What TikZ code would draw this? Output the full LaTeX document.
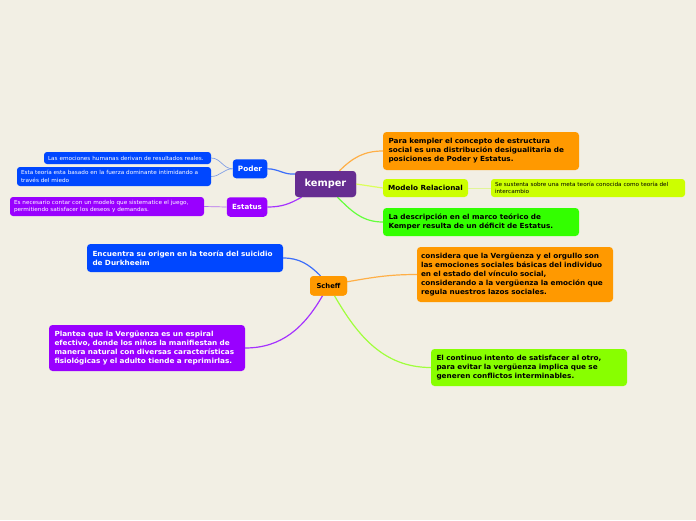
\documentclass[tikz,border=0pt]{standalone}
\usepackage{fontspec}
\setmainfont{DejaVu Sans}
\newfontfamily\wf[FakeStretch=1.04]{DejaVu Sans}
\definecolor{bgc}{RGB}{242,239,228}
\definecolor{cpurpled}{RGB}{102,45,145}
\definecolor{corange}{RGB}{255,153,0}
\definecolor{cyg}{RGB}{204,255,0}
\definecolor{cgreen}{RGB}{51,255,0}
\definecolor{cchart}{RGB}{136,255,0}
\definecolor{cblue}{RGB}{0,71,255}
\definecolor{cpurple}{RGB}{153,0,255}
\definecolor{lorange}{RGB}{255,175,70}
\definecolor{lyg}{RGB}{220,255,90}
\definecolor{lgreen}{RGB}{100,255,60}
\definecolor{lchart}{RGB}{160,255,60}
\definecolor{lblue}{RGB}{60,110,250}
\definecolor{lpurple}{RGB}{165,50,255}
\definecolor{sblue}{RGB}{130,160,230}
\definecolor{spurple}{RGB}{180,110,240}
\definecolor{syg}{RGB}{225,245,150}
\hyphenpenalty=10000
\exhyphenpenalty=10000
\begin{document}
\begin{tikzpicture}[x=1pt,y=-1pt,
  box/.style={rounded corners=3.5pt, inner xsep=5.5pt, inner ysep=0pt, align=left,
    font=\wf\bfseries\fontsize{7.0}{9}\selectfont},
  sbox/.style={rounded corners=3pt, inner xsep=4pt, inner ysep=0pt, align=left,
    font=\wf\fontsize{5.5}{7.6}\selectfont},
  cbox/.style={rounded corners=3.5pt, inner sep=0pt, align=center,
    font=\bfseries\fontsize{6.8}{9}\selectfont},
  mainline/.style={line width=1.2pt},
  subline/.style={line width=0.7pt}]
\fill[bgc] (0,0) rectangle (696,520);
\useasboundingbox (0,0) rectangle (696,520);

% central nodes
\node[cbox, fill=cpurpled, text=white, minimum width=61pt, minimum height=26pt,
  font=\bfseries\fontsize{9.8}{12}\selectfont] (kemper) at (325.5,184) {kemper};
\node[cbox, fill=corange, minimum width=37pt, minimum height=19.5pt] (scheff) at (328.5,285.8) {Scheff};

% right of kemper
\node[box, fill=corange, text width=185pt, minimum height=38pt] (para) at (481,151)
  {Para kempler el concepto de estructura\\social es una distribución desigualitaria de\\posiciones de Poder y Estatus.};
\node[cbox, fill=cyg, minimum width=85pt, minimum height=18pt,
  font=\wf\bfseries\fontsize{7.0}{9}\selectfont] (modelo) at (425.5,188) {Modelo Relacional};
\node[sbox, fill=cyg, text width=186pt, minimum height=18pt] (sust) at (588,188)
  {Se sustenta sobre una meta teoría conocida como teoría del\\intercambio};
\node[box, fill=cgreen, text width=185pt, minimum height=28pt] (desc) at (481,222)
  {La descripción en el marco teórico de\\Kemper resulta de un déficit de Estatus.};

% left of kemper
\node[cbox, fill=cblue, text=white, minimum width=34.5pt, minimum height=19pt,
  font=\bfseries\fontsize{7.3}{9}\selectfont] (poder) at (250,168.8) {Poder};
\node[sbox, fill=cblue, text=white, text width=159pt, minimum height=12pt] (emoc) at (127.5,158)
  {Las emociones humanas derivan de resultados reales.};
\node[sbox, fill=cblue, text=white, text width=186pt, minimum height=19pt] (fuerza) at (114,176.5)
  {Esta teoría esta basado en la fuerza dominante intimidando a\\través del miedo};
\node[cbox, fill=cpurple, text=white, minimum width=40.5pt, minimum height=19.5pt,
  font=\bfseries\fontsize{7.1}{9}\selectfont] (estatus) at (247,207) {Estatus};
\node[sbox, fill=cpurple, text=white, text width=186pt, minimum height=19pt] (neces) at (107,206.5)
  {Es necesario contar con un modelo que sistematice el juego,\\permitiendo satisfacer los deseos y demandas.};

% Scheff children
\node[box, fill=cblue, text=white, text width=185pt, minimum height=28pt] (durk) at (185,258)
  {Encuentra su origen en la teoría del suicidio\\de Durkheeim};
\node[box, fill=corange, text width=188pt, inner xsep=4pt, minimum height=55pt] (consid) at (515,274.5)
  {considera que la Vergüenza y el orgullo son\\las emociones sociales básicas del individuo\\en el estado del vínculo social,\\considerando a la vergüenza la emoción que\\regula nuestros lazos sociales.};
\node[box, fill=cpurple, text=white, text width=185pt, minimum height=46pt] (plant) at (147,348)
  {Plantea que la Vergüenza es un espiral\\efectivo, donde los niños la manifiestan de\\manera natural con diversas características\\fisiológicas y el adulto tiende a reprimirlas.};
\node[box, fill=cchart, text width=185pt, minimum height=37pt] (contin) at (529,367.5)
  {El continuo intento de satisfacer al otro,\\para evitar la vergüenza implica que se\\generen conflictos interminables.};

% connectors from kemper
\draw[mainline, lorange] ([xshift=14pt]kemper.north) to[out=45,in=180] (para.west);
\draw[mainline, lyg] (kemper.east) -- (modelo.west);
\draw[subline, syg] (modelo.east) -- (sust.west);
\draw[mainline, lgreen] ([xshift=12pt]kemper.south) to[out=-45,in=180] (desc.west);
\draw[mainline, lblue] ([yshift=10pt]kemper.west) to[out=185,in=0] (poder.east);
\draw[mainline, lpurple] ([xshift=-24pt]kemper.south) to[out=-150,in=0] (estatus.east);
\draw[subline, sblue] (poder.west) to[out=180,in=0] (emoc.east);
\draw[subline, sblue] (poder.west) to[out=180,in=0] (fuerza.east);
\draw[subline, spurple] (estatus.west) -- (neces.west -| neces.east);

% connectors from Scheff
\draw[mainline, lblue] ([xshift=-8pt]scheff.north) to[out=135,in=0] (durk.east);
\draw[mainline, lorange] ([yshift=4pt]scheff.east) to[out=10,in=180] (consid.west);
\draw[mainline, lpurple] ([xshift=-6pt]scheff.south) to[out=-120,in=0] (plant.east);
\draw[mainline, lchart] ([xshift=6pt]scheff.south) to[out=-60,in=180] (contin.west);

% redraw central nodes on top of connector ends
\node[cbox, fill=cpurpled, text=white, minimum width=61pt, minimum height=26pt,
  font=\bfseries\fontsize{9.8}{12}\selectfont] at (kemper) {kemper};
\node[cbox, fill=corange, minimum width=37pt, minimum height=19.5pt] at (scheff) {Scheff};
\end{tikzpicture}
\end{document}
